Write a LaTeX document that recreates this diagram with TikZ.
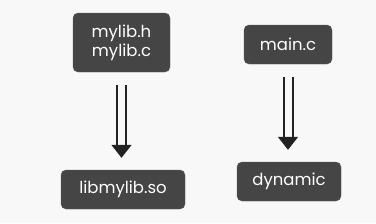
\documentclass[tikz,border=0pt]{standalone}
\usepackage{fontspec}
\setmainfont{Poppins}
\usepackage{xcolor}
\usetikzlibrary{arrows.meta,positioning}
\definecolor{pagebg}{RGB}{248,248,248}
\definecolor{boxfill}{RGB}{69,69,69}
\definecolor{boxline}{RGB}{92,92,92}
\definecolor{arrowc}{RGB}{34,34,34}
\tikzset{
  file/.style={draw=boxline,fill=boxfill,rounded corners=5pt,align=center,
               text=white,font=\fontsize{16.5}{19}\selectfont,inner sep=0pt,
               minimum height=39pt},
  build/.style={double=pagebg,draw=arrowc,line width=2pt,double distance=7pt,
                -{Triangle[width=20pt,length=13pt]},
                shorten <=13pt,shorten >=12pt},
}

\begin{document}
\begin{tikzpicture}[x=1pt,y=-1pt]
  \fill[pagebg] (0,0) rectangle (376,223);
  \useasboundingbox (0,0) rectangle (376,223);

  \node[file,minimum width=97pt,minimum height=59pt] (src)  at (121.5,42.5) {mylib.h\\mylib.c};
  \node[file,minimum width=88pt]  (main) at (288,44.5)  {main.c};
  \node[file,minimum width=124pt] (so)   at (123,189.5) {libmylib.so};
  \node[file,minimum width=104pt] (dyn)  at (289,181.5) {dynamic};

  \draw[build] (src) -- (src |- so.north);
  \draw[build] (main) -- (main |- dyn.north);
\end{tikzpicture}
\end{document}
